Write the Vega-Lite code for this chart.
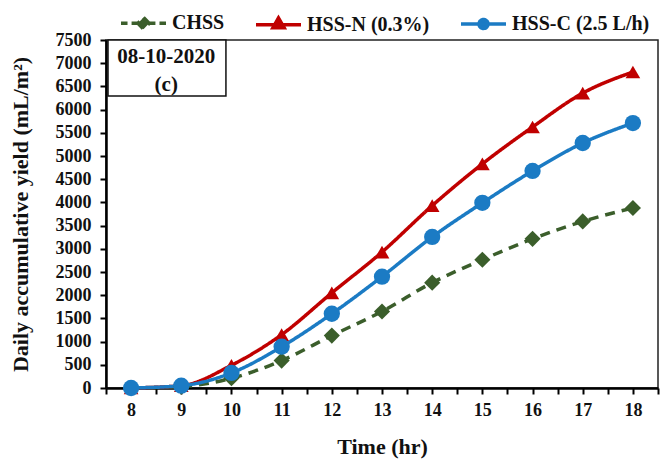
{
  "$schema": "https://vega.github.io/schema/vega-lite/v6.json",
  "autosize": "none",
  "padding": {"left": 106, "top": 40, "right": 3, "bottom": 73},
  "width": 552,
  "height": 348,
  "config": {
    "font": "Liberation Serif",
    "view": {"stroke": "#222", "strokeWidth": 1.5},
    "axis": {"grid": false, "domainColor": "#000", "domainWidth": 2.5, "tickColor": "#000", "tickWidth": 2, "tickSize": 6, "labelFont": "Liberation Serif", "labelFontWeight": "bold", "labelFontSize": 18, "labelColor": "#111", "titleFont": "Liberation Serif", "titleFontWeight": "bold", "titleColor": "#111"}
  },
  "datasets": {
    "yield": [
      {"series": "CHSS", "time": 8, "value": 0},
      {"series": "CHSS", "time": 9, "value": 30},
      {"series": "CHSS", "time": 10, "value": 210},
      {"series": "CHSS", "time": 11, "value": 590},
      {"series": "CHSS", "time": 12, "value": 1130},
      {"series": "CHSS", "time": 13, "value": 1650},
      {"series": "CHSS", "time": 14, "value": 2270},
      {"series": "CHSS", "time": 15, "value": 2765},
      {"series": "CHSS", "time": 16, "value": 3215},
      {"series": "CHSS", "time": 17, "value": 3590},
      {"series": "CHSS", "time": 18, "value": 3880},
      {"series": "HSS-N (0.3%)", "time": 8, "value": 0},
      {"series": "HSS-N (0.3%)", "time": 9, "value": 50},
      {"series": "HSS-N (0.3%)", "time": 10, "value": 490},
      {"series": "HSS-N (0.3%)", "time": 11, "value": 1150},
      {"series": "HSS-N (0.3%)", "time": 12, "value": 2050},
      {"series": "HSS-N (0.3%)", "time": 13, "value": 2930},
      {"series": "HSS-N (0.3%)", "time": 14, "value": 3930},
      {"series": "HSS-N (0.3%)", "time": 15, "value": 4830},
      {"series": "HSS-N (0.3%)", "time": 16, "value": 5625},
      {"series": "HSS-N (0.3%)", "time": 17, "value": 6355},
      {"series": "HSS-N (0.3%)", "time": 18, "value": 6810},
      {"series": "HSS-C (2.5 L/h)", "time": 8, "value": 0},
      {"series": "HSS-C (2.5 L/h)", "time": 9, "value": 50},
      {"series": "HSS-C (2.5 L/h)", "time": 10, "value": 325},
      {"series": "HSS-C (2.5 L/h)", "time": 11, "value": 890},
      {"series": "HSS-C (2.5 L/h)", "time": 12, "value": 1600},
      {"series": "HSS-C (2.5 L/h)", "time": 13, "value": 2400},
      {"series": "HSS-C (2.5 L/h)", "time": 14, "value": 3255},
      {"series": "HSS-C (2.5 L/h)", "time": 15, "value": 3990},
      {"series": "HSS-C (2.5 L/h)", "time": 16, "value": 4678},
      {"series": "HSS-C (2.5 L/h)", "time": 17, "value": 5280},
      {"series": "HSS-C (2.5 L/h)", "time": 18, "value": 5710}
    ],
    "box": [{"time": 7.54, "time2": 9.89, "value": 6293, "value2": 7500}],
    "label": [{"time": 8.7, "value": 7134, "text": ["08-10-2020", "(c)"]}]
  },
  "encoding": {
    "x": {"field": "time", "type": "quantitative", "scale": {"domain": [7.5, 18.5], "nice": false, "zero": false},
      "axis": {"values": [7.5, 8, 8.5, 9, 9.5, 10, 10.5, 11, 11.5, 12, 12.5, 13, 13.5, 14, 14.5, 15, 15.5, 16, 16.5, 17, 17.5, 18, 18.5],
        "labelExpr": "datum.value % 1 === 0 ? format(datum.value, 'd') : ''", "labelPadding": 7, "labelFlush": false, "labelOverlap": false,
        "title": "Time (hr)", "titleFontSize": 22, "titleX": 276, "titleY": 58, "titleBaseline": "middle"}},
    "y": {"field": "value", "type": "quantitative", "scale": {"domain": [0, 7500], "nice": false},
      "axis": {"values": [0, 500, 1000, 1500, 2000, 2500, 3000, 3500, 4000, 4500, 5000, 5500, 6000, 6500, 7000, 7500],
        "format": "d", "labelPadding": 9, "labelFlush": false, "labelOverlap": false,
        "title": "Daily accumulative yield (mL/m²)", "titleFontSize": 22, "titleAngle": -90, "titleX": -86, "titleY": 174, "titleBaseline": "middle", "titleAlign": "center"}}
  },
  "layer": [
    {
      "data": {"name": "yield"},
      "mark": {"type": "line", "interpolate": "monotone", "strokeWidth": 3.5},
      "encoding": {
        "color": {"field": "series", "type": "nominal",
          "scale": {"domain": ["CHSS", "HSS-N (0.3%)", "HSS-C (2.5 L/h)"], "range": ["#3b5e2b", "#c00000", "#1b7bc4"]},
          "legend": {"orient": "none", "legendX": 13, "legendY": -41.5, "direction": "horizontal", "title": null, "padding": 0,
            "symbolSize": 2025, "symbolStrokeWidth": 3.5, "symbolType": "circle", "labelOffset": 4, "columnPadding": 24,
            "labelFont": "Liberation Serif", "labelFontWeight": "bold", "labelFontSize": 20, "labelColor": "#111",
            "encode": {"symbols": {"update": {
              "shape": {"signal": "datum.value === 'CHSS' ? 'M-1,0H-0.71M-0.53,0H-0.27M0.27,0H0.53M0.71,0H1M0,-0.26L0.25,0L0,0.26L-0.25,0Z' : datum.value === 'HSS-N (0.3%)' ? 'M-1,0H1M0,-0.3L0.25,0.14L-0.25,0.14Z' : 'M-1,0H1M0.2,0C0.2,0.11 0.11,0.2 0,0.2C-0.11,0.2 -0.2,0.11 -0.2,0C-0.2,-0.11 -0.11,-0.2 0,-0.2C0.11,-0.2 0.2,-0.11 0.2,0Z'"},
              "fill": {"signal": "datum.value === 'CHSS' ? '#3b5e2b' : datum.value === 'HSS-N (0.3%)' ? '#c00000' : '#1b7bc4'"},
              "stroke": {"signal": "datum.value === 'CHSS' ? '#3b5e2b' : datum.value === 'HSS-N (0.3%)' ? '#c00000' : '#1b7bc4'"},
              "strokeWidth": {"value": 3.5},
              "strokeDash": {"value": []},
              "opacity": {"value": 1}
            }}}}},
        "strokeDash": {"field": "series", "type": "nominal",
          "scale": {"domain": ["CHSS", "HSS-N (0.3%)", "HSS-C (2.5 L/h)"], "range": [[10, 7], [1, 0], [1, 0]]},
          "legend": null}
      }
    },
    {
      "data": {"name": "yield"},
      "transform": [{"filter": {"field": "series", "equal": "CHSS"}}],
      "mark": {"type": "point", "shape": "diamond", "size": 260, "filled": true, "opacity": 1, "strokeWidth": 0, "color": "#3b5e2b"},
      "encoding": {}
    },
    {
      "data": {"name": "yield"},
      "transform": [{"filter": {"field": "series", "equal": "HSS-N (0.3%)"}}],
      "mark": {"type": "point", "shape": "triangle-up", "size": 215, "filled": true, "opacity": 1, "strokeWidth": 0, "color": "#c00000"},
      "encoding": {}
    },
    {
      "data": {"name": "yield"},
      "transform": [{"filter": {"field": "series", "equal": "HSS-C (2.5 L/h)"}}],
      "mark": {"type": "point", "shape": "circle", "size": 265, "filled": true, "opacity": 1, "strokeWidth": 0, "color": "#1b7bc4"},
      "encoding": {}
    },
    {
      "data": {"name": "box"},
      "mark": {"type": "rect", "fill": "white", "stroke": "#111", "strokeWidth": 1.5},
      "encoding": {
        "x2": {"field": "time2"},
        "y2": {"field": "value2"}
      }
    },
    {
      "data": {"name": "label"},
      "mark": {"type": "text", "font": "Liberation Serif", "fontWeight": "bold", "fontSize": 21, "color": "#111", "align": "center", "baseline": "middle", "lineHeight": 28},
      "encoding": {
        "text": {"field": "text"}
      }
    }
  ]
}
